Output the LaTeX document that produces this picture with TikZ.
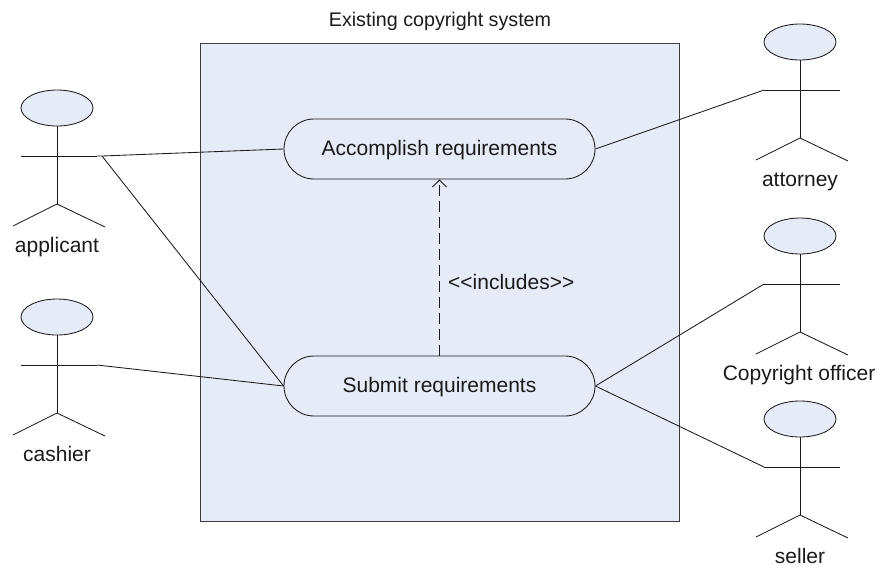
\documentclass[tikz,border=0pt]{standalone}
\usepackage{fontspec}
\setmainfont[Ligatures=NoCommon]{Liberation Sans}
\usetikzlibrary{arrows.meta,shapes.geometric}
\definecolor{fillblue}{HTML}{E6ECF7}
\definecolor{ink}{HTML}{1A1A1A}
\tikzset{
  x=1pt,y=-1pt,
  every node/.style={font=\fontsize{21}{24}\selectfont,text=ink},
  line/.style={draw=ink,line width=0.85pt},
  sysbox/.style={draw=ink!85,line width=0.9pt,fill=fillblue,minimum width=479pt,minimum height=478pt,inner sep=0pt},
  usecase/.style={line,fill=fillblue,rounded corners=30pt,minimum width=311pt,minimum height=60pt,inner sep=0pt,text height=16pt,text depth=4pt},
  head/.style={line,fill=fillblue,ellipse,minimum width=72pt,minimum height=36pt,inner sep=0pt},
  tag/.style={inner sep=0pt},
  actorname/.style={inner sep=0pt,anchor=base},
  pics/actor/.style={code={
    \node[head] (#1h) at (0,0) {};
    \coordinate (#1l) at (-36,48);
    \coordinate (#1r) at (40,48);
    \coordinate (#1hip) at (0,96);
    \draw[line] (#1h.south) -- (#1hip);
    \draw[line] (#1l) -- (#1r);
    \draw[line] (-44,118) -- (#1hip) -- (48,119);
  }}
}
\begin{document}
\begin{tikzpicture}
\useasboundingbox (0,0) rectangle (883,571);
\node[sysbox] (sys) at (439.5,282) {};
\node[tag,font=\fontsize{19.7}{22}\selectfont] (title) at (440,21) {Existing copyright system};
\node[usecase] (acc) at (439.5,149) {Accomplish requirements};
\node[usecase] (sub) at (439.5,386) {Submit requirements};
\node[tag,anchor=west] (inc) at (448,282) {{<}{<}includes{>}{>}};
\draw[line,dash pattern=on 11pt off 5pt,-{Straight Barb[length=7pt,width=14pt,line width=0.85pt]}] (sub.north) -- (acc.south);

\pic at (57,108) {actor=a};
\pic at (57,317) {actor=c};
\pic at (800,42) {actor=t};
\pic at (800,236) {actor=o};
\pic at (800,419) {actor=s};

\node[actorname] (la) at (57,252) {applicant};
\node[actorname] (lc) at (57,461) {cashier};
\node[actorname] (lt) at (800,186) {attorney};
\node[actorname] (lo) at (799,380) {Copyright officer};
\node[actorname] (ls) at (800,563) {seller};

\coordinate (aj) at (102,156);
\draw[line] (ar) -- (aj) -- (acc.west);
\draw[line] (aj) -- (sub.west);
\draw[line] (cr) -- (sub.west);
\draw[line] (tl) -- (acc.east);
\draw[line] (ol) -- (sub.east);
\draw[line] (sl) -- (sub.east);
\end{tikzpicture}
\end{document}
